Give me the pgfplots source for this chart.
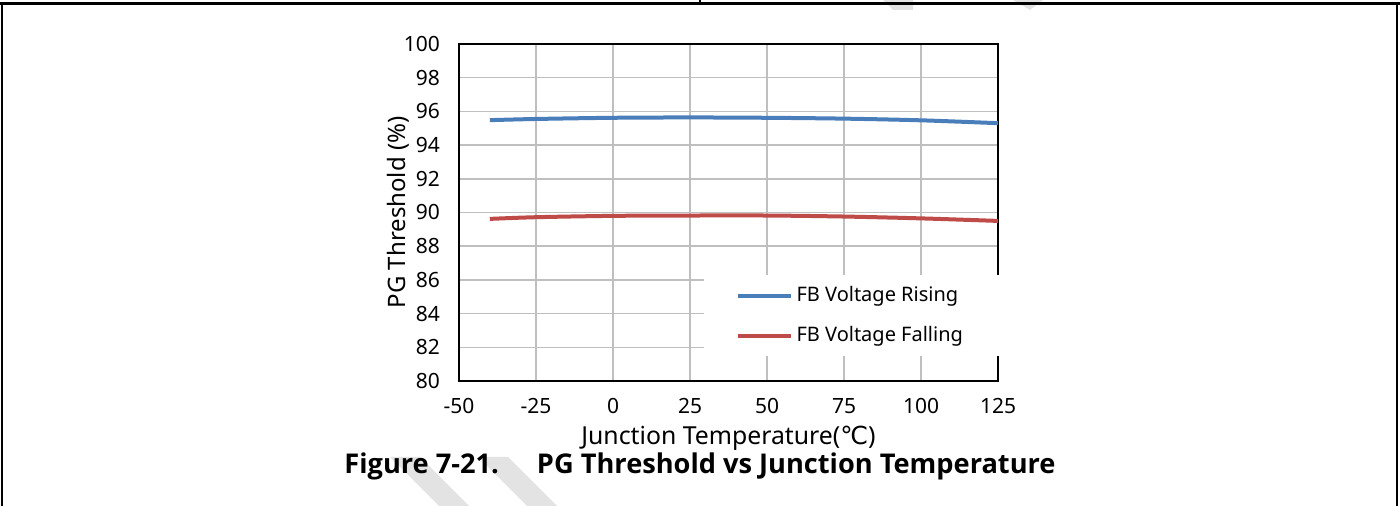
\documentclass[border=0pt]{standalone}
\usepackage{pgfplots}
\pgfplotsset{compat=1.18}
\usepackage{fontspec}
\setmainfont{Noto Sans}
\newfontfamily\titlefont{Open Sans}
\newfontfamily\dejavu{DejaVu Sans}
\definecolor{blueS}{HTML}{4A7EBB}
\definecolor{redS}{HTML}{BE4B48}
\definecolor{gridC}{HTML}{BFBFBF}
\definecolor{wm}{HTML}{E3E3E3}
\begin{document}
\begin{tikzpicture}[x=1pt,y=1pt]
\useasboundingbox (0,0) rectangle (700,253);
% watermark pieces
\fill[wm] (195,24.5) -- (210,24.5) -- (234.5,0) -- (219.5,0) -- cycle;
\fill[wm] (239,24.5) -- (254,24.5) -- (278.5,0) -- (263.5,0) -- cycle;
\fill[wm] (441.5,253) -- (456.5,253) -- (456.5,248) -- (446.5,248) -- cycle;
\fill[wm] (506.5,253) -- (521.5,253) -- (515,248) -- cycle;
% frame
\draw[line width=1.5pt] (0,251.25) -- (700,251.25);
\draw[line width=1pt] (1,0) -- (1,252);
\draw[line width=1pt] (698.5,0) -- (698.5,252);
\draw[line width=1pt] (350,251) -- (350,253);
\begin{axis}[
  at={(229.5pt,62.5pt)}, anchor=south west,
  scale only axis, width=269.5pt, height=168.5pt,
  xmin=-50, xmax=125, ymin=80, ymax=100,
  xtick={-50,-25,0,25,50,75,100,125},
  xticklabels={-50,-25,0,25,50,75,100,125},
  ytick={80,82,84,86,88,90,92,94,96,98,100},
  yticklabels={80,82,84,86,88,90,92,94,96,98,100},
  major tick length=0pt,
  grid=major,
  major grid style={gridC, line width=0.75pt},
  axis line style={black, line width=1pt},
  tick label style={font=\fontsize{10.5}{12}\selectfont},
  xticklabel style={yshift=-5pt},
  yticklabel style={xshift=-6pt},
  xlabel={Junction Temperature({\dejavu ℃})},
  ylabel={PG Threshold (\%)},
  xlabel style={font=\fontsize{12.4}{14}\selectfont, at={(axis description cs:0.5,-0.17)}, anchor=center},
  ylabel style={font=\fontsize{12}{14}\selectfont, at={(axis description cs:-0.113,0.5)}, anchor=center},
  legend style={at={(axis description cs:0.453,0.3145)}, anchor=north west,
    draw=none, fill=white, font=\fontsize{10}{12}\selectfont,
    inner xsep=16pt, inner ysep=3.5pt, row sep=7pt,
    legend cell align=left},
  legend image code/.code={\draw[#1] (0pt,0pt) -- (26.5pt,0pt);},
]
\addplot[blueS, line width=2pt, smooth] coordinates {
(-40,95.48) (-25,95.55) (0,95.62) (25,95.64) (50,95.62) (75,95.57) (100,95.47) (125,95.30)};
\addlegendentry{FB Voltage Rising}
\addplot[redS, line width=2pt, smooth] coordinates {
(-40,89.62) (-25,89.72) (0,89.80) (25,89.82) (50,89.82) (75,89.76) (100,89.65) (125,89.50)};
\addlegendentry{FB Voltage Falling}
\end{axis}
\node[font=\titlefont\bfseries\fontsize{13.6}{16}\selectfont] at (350,20) {Figure 7-21.\hspace{19pt}PG Threshold vs Junction Temperature};
\end{tikzpicture}
\end{document}
